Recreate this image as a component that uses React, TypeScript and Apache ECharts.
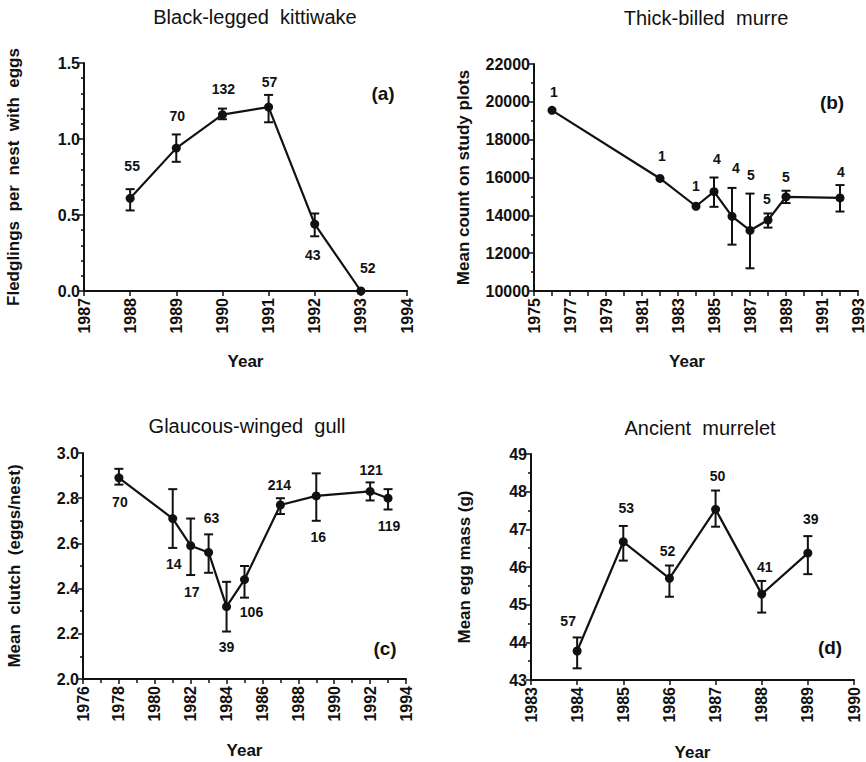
import { useEffect, useRef } from 'react';
import * as echarts from 'echarts';

// (a) Black-legged kittiwake: fledglings per nest with eggs
const kittiwakeYears = [1988, 1989, 1990, 1991, 1992, 1993];
const kittiwakeMean = [0.61, 0.94, 1.16, 1.21, 0.44, 0.0];
const kittiwakeLow = [0.53, 0.85, 1.13, 1.11, 0.36, null];
const kittiwakeHigh = [0.67, 1.03, 1.2, 1.29, 0.51, null];
const kittiwakeN = [55, 70, 132, 57, 43, 52];

// (b) Thick-billed murre: mean count on study plots
const murreYears = [1976, 1982, 1984, 1985, 1986, 1987, 1988, 1989, 1992];
const murreMean = [19550, 15950, 14480, 15250, 13950, 13200, 13750, 14980, 14920];
const murreLow = [null, null, null, 14450, 12450, 11200, 13350, 14650, 14200];
const murreHigh = [null, null, null, 16000, 15450, 15150, 14100, 15300, 15600];
const murreN = [1, 1, 1, 4, 4, 5, 5, 5, 4];

// (c) Glaucous-winged gull: mean clutch size
const gullYears = [1978, 1981, 1982, 1983, 1984, 1985, 1987, 1989, 1992, 1993];
const gullMean = [2.89, 2.71, 2.59, 2.56, 2.32, 2.44, 2.77, 2.81, 2.83, 2.8];
const gullLow = [2.86, 2.58, 2.46, 2.47, 2.21, 2.36, 2.73, 2.7, 2.79, 2.75];
const gullHigh = [2.93, 2.84, 2.71, 2.64, 2.43, 2.5, 2.8, 2.91, 2.87, 2.84];
const gullN = [70, 14, 17, 63, 39, 106, 214, 16, 121, 119];

// (d) Ancient murrelet: mean egg mass
const murreletYears = [1984, 1985, 1986, 1987, 1988, 1989];
const murreletMean = [43.77, 46.67, 45.7, 47.53, 45.28, 46.37];
const murreletLow = [43.31, 46.17, 45.21, 47.07, 44.79, 45.81];
const murreletHigh = [44.13, 47.09, 46.04, 48.03, 45.63, 46.82];
const murreletN = [57, 53, 52, 50, 41, 39];

const FONT = "'Liberation Sans', Arial, Helvetica, sans-serif";
const INK = '#111';

type Panel = {
  title: string;
  letter: string;
  years: number[];
  mean: number[];
  low: (number | null)[];
  high: (number | null)[];
  n: number[];
  grid: { left: number; top: number; width: number; height: number };
  titlePos: [number, number];
  letterPos: [number, number];
  x: { min: number; max: number; interval: number; minorSplit: number; labelEvery: number };
  y: { min: number; max: number; interval: number; minorSplit: number; decimals: number; name: string; nameGap: number };
  xNameGap: number;
  xNamePad: number[];
  labelOffsets: [number, number][];
};

const panels: Panel[] = [
  {
    title: 'Black-legged  kittiwake',
    letter: '(a)',
    years: kittiwakeYears,
    mean: kittiwakeMean,
    low: kittiwakeLow,
    high: kittiwakeHigh,
    n: kittiwakeN,
    grid: { left: 84, top: 63, width: 323, height: 228 },
    titlePos: [250, 14],
    letterPos: [383, 93],
    x: { min: 1987, max: 1994, interval: 1, minorSplit: 0, labelEvery: 1 },
    y: { min: 0, max: 1.5, interval: 0.5, minorSplit: 5, decimals: 1, name: 'Fledglings  per  nest  with  eggs', nameGap: 62 },
    xNameGap: 62,
    xNamePad: [0, 0, 0, 0],
    labelOffsets: [[2, -32], [1, -32], [1, -26], [1, -25], [-2, 31], [7, -23]],
  },
  {
    title: 'Thick-billed  murre',
    letter: '(b)',
    years: murreYears,
    mean: murreMean,
    low: murreLow,
    high: murreHigh,
    n: murreN,
    grid: { left: 534, top: 64, width: 324, height: 227 },
    titlePos: [701, 15],
    letterPos: [832, 102],
    x: { min: 1975, max: 1993, interval: 1, minorSplit: 0, labelEvery: 2 },
    y: { min: 10000, max: 22000, interval: 2000, minorSplit: 2, decimals: 0, name: 'Mean count on study plots', nameGap: 62 },
    xNameGap: 62,
    xNamePad: [0, 18, 0, 0],
    labelOffsets: [[2, -18], [2, -22], [0, -20], [3, -33], [4, -48], [1, -55], [-1, -21], [0, -20], [1, -26]],
  },
  {
    title: 'Glaucous-winged  gull',
    letter: '(c)',
    years: gullYears,
    mean: gullMean,
    low: gullLow,
    high: gullHigh,
    n: gullN,
    grid: { left: 83, top: 453, width: 323, height: 226 },
    titlePos: [242, 423],
    letterPos: [385, 648],
    x: { min: 1976, max: 1994, interval: 2, minorSplit: 2, labelEvery: 1 },
    y: { min: 2.0, max: 3.0, interval: 0.2, minorSplit: 2, decimals: 1, name: 'Mean  clutch  (eggs/nest)', nameGap: 60 },
    xNameGap: 63,
    xNamePad: [0, 0, 0, 0],
    labelOffsets: [[1, 24], [1, 45], [1, 46], [3, -34], [0, 40], [7, 32], [-1, -20], [2, 41], [1, -21], [1, 28]],
  },
  {
    title: 'Ancient  murrelet',
    letter: '(d)',
    years: murreletYears,
    mean: murreletMean,
    low: murreletLow,
    high: murreletHigh,
    n: murreletN,
    grid: { left: 531, top: 454, width: 323, height: 226 },
    titlePos: [695, 425],
    letterPos: [830, 647],
    x: { min: 1983, max: 1990, interval: 1, minorSplit: 0, labelEvery: 1 },
    y: { min: 43, max: 49, interval: 1, minorSplit: 2, decimals: 0, name: 'Mean egg mass (g)', nameGap: 58 },
    xNameGap: 64,
    xNamePad: [0, 0, 0, 0],
    labelOffsets: [[-9, -30], [3, -34], [-2, -27], [2, -33], [3, -27], [3, -34]],
  },
];

function buildOption() {
  const grids: any[] = [];
  const xAxes: any[] = [];
  const yAxes: any[] = [];
  const series: any[] = [];
  const titles: any[] = [];
  const graphics: any[] = [];

  panels.forEach((p, i) => {
    grids.push({ ...p.grid, containLabel: false });

    xAxes.push({
      type: 'value',
      gridIndex: i,
      min: p.x.min,
      max: p.x.max,
      interval: p.x.interval,
      name: 'Year',
      nameLocation: 'middle',
      nameGap: p.xNameGap,
      nameTextStyle: { fontFamily: FONT, fontSize: 17, fontWeight: 'bold', color: INK, padding: p.xNamePad },
      axisLine: { show: true, onZero: false, lineStyle: { color: INK, width: 2 } },
      axisTick: { show: true, inside: false, length: 5, lineStyle: { color: INK, width: 1.5 } },
      minorTick: { show: p.x.minorSplit > 0, splitNumber: p.x.minorSplit || 5, length: 4, lineStyle: { color: INK, width: 1.5 } },
      splitLine: { show: false },
      axisLabel: {
        rotate: 90,
        margin: 7,
        fontFamily: FONT,
        fontSize: 16,
        fontWeight: 'bold',
        color: INK,
        showMinLabel: true,
        showMaxLabel: true,
        formatter: (v: number) => (Math.round(v - p.x.min) % p.x.labelEvery === 0 ? String(Math.round(v)) : ''),
      },
    });

    yAxes.push({
      type: 'value',
      gridIndex: i,
      min: p.y.min,
      max: p.y.max,
      interval: p.y.interval,
      name: p.y.name,
      nameLocation: 'middle',
      nameRotate: 90,
      nameGap: p.y.nameGap,
      nameTextStyle: { fontFamily: FONT, fontSize: 17, fontWeight: 'bold', color: INK },
      axisLine: { show: true, lineStyle: { color: INK, width: 2 } },
      axisTick: { show: true, inside: false, length: 5, lineStyle: { color: INK, width: 1.5 } },
      minorTick: { show: true, splitNumber: p.y.minorSplit, length: 3, lineStyle: { color: INK, width: 1.5 } },
      splitLine: { show: false },
      axisLabel: {
        margin: 4,
        fontFamily: FONT,
        fontSize: 16,
        fontWeight: 'bold',
        color: INK,
        formatter: (v: number) => v.toFixed(p.y.decimals),
      },
    });

    const bars = p.years
      .map((yr, k) => [yr, p.low[k], p.high[k]])
      .filter((d) => d[1] != null && d[2] != null);

    series.push({
      type: 'custom',
      xAxisIndex: i,
      yAxisIndex: i,
      data: bars,
      encode: { x: 0, y: [1, 2] },
      silent: true,
      z: 3,
      renderItem: (_params: any, api: any) => {
        const x = api.value(0);
        const lo = api.coord([x, api.value(1)]);
        const hi = api.coord([x, api.value(2)]);
        const cap = 4.5;
        const style = { stroke: INK, lineWidth: 2 };
        return {
          type: 'group',
          children: [
            { type: 'line', shape: { x1: lo[0], y1: lo[1], x2: hi[0], y2: hi[1] }, style },
            { type: 'line', shape: { x1: lo[0] - cap, y1: lo[1], x2: lo[0] + cap, y2: lo[1] }, style },
            { type: 'line', shape: { x1: hi[0] - cap, y1: hi[1], x2: hi[0] + cap, y2: hi[1] }, style },
          ],
        };
      },
    });

    series.push({
      type: 'line',
      xAxisIndex: i,
      yAxisIndex: i,
      z: 4,
      symbol: 'circle',
      symbolSize: 9,
      showAllSymbol: true,
      itemStyle: { color: INK },
      lineStyle: { color: INK, width: 2.2 },
      data: p.years.map((yr, k) => ({
        value: [yr, p.mean[k], p.n[k]],
        label: { offset: p.labelOffsets[k] },
      })),
      label: {
        show: true,
        position: 'inside',
        fontFamily: FONT,
        fontSize: 14,
        fontWeight: 'bold',
        color: INK,
        formatter: (prm: any) => String(prm.value[2]),
      },
    });

    titles.push({
      text: p.title,
      left: p.titlePos[0],
      top: p.titlePos[1] - 12,
      textAlign: 'center',
      textStyle: { fontFamily: FONT, fontSize: 20, fontWeight: 'normal', color: INK },
    });

    graphics.push({
      type: 'text',
      x: p.letterPos[0],
      y: p.letterPos[1],
      style: {
        text: p.letter,
        fontFamily: FONT,
        fontSize: 19,
        fontWeight: 'bold',
        fill: INK,
        align: 'center',
        verticalAlign: 'middle',
      },
    });
  });

  return {
    animation: false,
    backgroundColor: '#fff',
    title: titles,
    grid: grids,
    xAxis: xAxes,
    yAxis: yAxes,
    series,
    graphic: graphics,
  };
}

export default function App() {
  const ref = useRef<HTMLDivElement>(null);

  useEffect(() => {
    if (!ref.current) return;
    const chart = echarts.init(ref.current, undefined, { renderer: 'svg' });
    chart.setOption(buildOption() as any);
    return () => chart.dispose();
  }, []);

  return (
    <div
      ref={ref}
      style={{ position: 'absolute', left: 0, top: 0, width: 866, height: 762, background: '#fff' }}
    />
  );
}
